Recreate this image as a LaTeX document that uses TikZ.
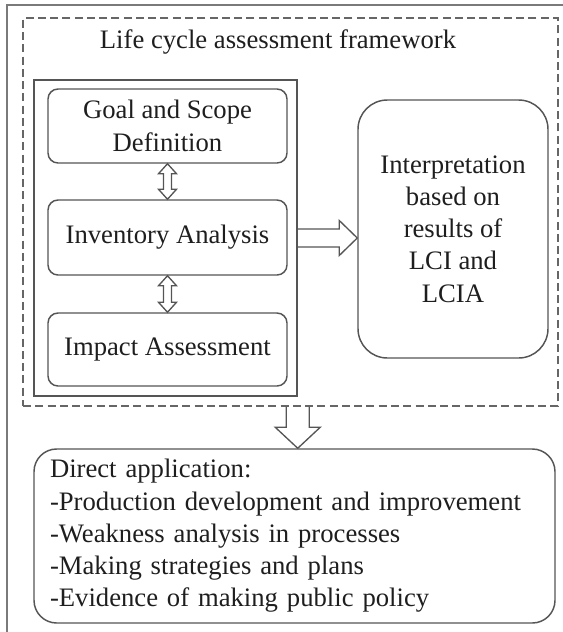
\documentclass[tikz,border=0pt]{standalone}
\usepackage{fontspec}
\setmainfont{Liberation Serif}
\usetikzlibrary{calc}
\definecolor{boxgray}{HTML}{555555}
\definecolor{framegray}{HTML}{7A7A7A}
\definecolor{dashgray}{HTML}{666666}
\definecolor{textgray}{HTML}{1E1E1E}
\newcommand\bodysize{\fontsize{20}{24.2}\selectfont}
\begin{document}
\begin{tikzpicture}[x=0.75pt,y=-0.75pt,
  box/.style={draw=boxgray, line width=1.1pt, rounded corners=7.5pt, minimum width=239*0.75pt,
    align=center, inner sep=0pt, font=\bodysize, text=textgray},
  plainbox/.style={draw=boxgray, line width=1.1pt, inner sep=0pt},
  dashbox/.style={draw=dashgray, line width=1.1pt, dash pattern=on 6pt off 3.2pt, inner sep=0pt},
  titletext/.style={font=\bodysize, text=textgray, inner sep=0pt},
  arrowline/.style={draw=boxgray, line width=1pt, line join=miter},
  outerline/.style={draw=framegray, line width=1.6pt}]
\useasboundingbox (0,0) rectangle (562,632);
% outer frame (cropped)
\draw[outerline] (7,640) -- (7,5) -- (570,5);
% dashed framework box
\node[dashbox, minimum width=535*0.75pt, minimum height=388*0.75pt] (frame) at (290.5,212) {};
\node[titletext] (title) at (278,42) {Life cycle assessment framework};
% inner solid box
\node[plainbox, minimum width=263*0.75pt, minimum height=316*0.75pt] (inner) at (165.5,238) {};
% phase boxes
\node[box, minimum height=74*0.75pt] (goal) at (167.5,126) {Goal and Scope\\Definition};
\node[box, minimum height=75*0.75pt] (inv) at (167.5,237.5) {Inventory Analysis};
\node[box, minimum height=73*0.75pt] (imp) at (167.5,349.5) {Impact Assessment};
% interpretation
\node[box, rounded corners=22pt, minimum width=190*0.75pt, minimum height=258*0.75pt] (interp) at (453,229)
  {Interpretation\\based on\\results of\\LCI and\\LCIA};
% application box
\node[box, rounded corners=17pt, minimum height=174*0.75pt, text width=489*0.75pt, align=left,
  inner xsep=16*0.75pt] (app) at (294.5,536)
  {Direct application:\\-Production development and improvement\\-Weakness analysis in processes\\-Making strategies and plans\\-Evidence of making public policy};
% double arrows
\draw[arrowline] (goal.south) -- ++(9,10) -- ++(-5,0) -- ($(inv.north)+(4,-10)$) -- ++(5,0) -- (inv.north)
  -- ++(-9,-10) -- ++(5,0) -- ($(goal.south)+(-4,10)$) -- ++(-5,0) -- cycle;
\draw[arrowline] (inv.south) -- ++(9,10) -- ++(-5,0) -- ($(imp.north)+(4,-10)$) -- ++(5,0) -- (imp.north)
  -- ++(-9,-10) -- ++(5,0) -- ($(inv.south)+(-4,10)$) -- ++(-5,0) -- cycle;
% right block arrow
\draw[arrowline] ($(inner.east)+(0,-9)$) -- ($(inner.east -| interp.west)+(-18,-9)$) -- ++(0,-8.5)
  -- (inner.east -| interp.west) -- ++(-18,17.5) -- ++(0,-8.5) -- ($(inner.east)+(0,9)$);
% down block arrow
\draw[arrowline] ($(inner.east |- frame.south)+(-11.5,0)$) -- ($(inner.east |- app.north)+(-11.5,-21)$) -- ++(-11,0)
  -- (inner.east |- app.north) -- ++(22.5,-21) -- ++(-11,0) -- ($(inner.east |- frame.south)+(11.5,0)$);
\end{tikzpicture}
\end{document}
